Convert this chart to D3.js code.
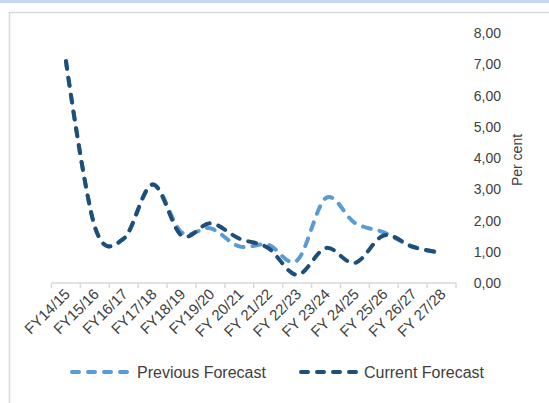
<!DOCTYPE html>
<html><head><meta charset="utf-8">
<script src="https://cdn.jsdelivr.net/npm/d3@7"></script>
<style>body{margin:0;background:#fff;}svg{display:block;font-family:"Liberation Sans",Arial,sans-serif;}</style>
</head><body>
<svg id="chart" width="549" height="403"></svg>
<script>
const categories = ["FY14/15","FY15/16","FY16/17","FY17/18","FY18/19","FY19/20","FY 20/21","FY 21/22","FY 22/23","FY 23/24","FY 24/25","FY 25/26","FY 26/27","FY 27/28"];
const previousForecast = [7.1,1.8,1.42,3.15,1.62,1.75,1.17,1.22,0.72,2.72,1.92,1.62,1.16,0.96];
const currentForecast  = [7.1,1.8,1.42,3.15,1.52,1.91,1.42,1.12,0.26,1.12,0.64,1.52,1.16,0.96];
const yTicks = [0,1,2,3,4,5,6,7,8];
const seriesNames = ["Previous Forecast","Current Forecast"];
const colors = ["#5b9bd5","#1f4e79"];

const svg = d3.select("#chart");
svg.append("rect").attr("x",0).attr("y",0).attr("width",549).attr("height",3).attr("fill","#c6d9f0");
svg.append("rect").attr("x",9.5).attr("y",12.5).attr("width",560).attr("height",420)
  .attr("fill","none").attr("stroke","#d9d9d9").attr("stroke-width",1.5);

const x = d3.scaleBand().domain(categories).range([51.5,456]);
const y = d3.scaleLinear().domain([0,8]).range([283,33]);

const g = svg.append("g");
g.append("line").attr("x1",x.range()[0]).attr("x2",x.range()[1]).attr("y1",y(0)).attr("y2",y(0))
  .attr("stroke","#d9d9d9").attr("stroke-width",1.5);
const bounds = categories.map(c=>x(c)).concat([x.range()[1]]);
g.selectAll(".tk").data(bounds).join("line")
  .attr("x1",d=>d).attr("x2",d=>d).attr("y1",y(0)).attr("y2",y(0)+5)
  .attr("stroke","#d9d9d9").attr("stroke-width",1.5);

g.selectAll(".xl").data(categories).join("text")
  .attr("transform",d=>`translate(${x(d)+x.bandwidth()/2+5},${y(0)+12}) rotate(-45)`)
  .attr("text-anchor","end").attr("font-size",15).attr("fill","#404040")
  .text(d=>d);

const fmt = d=>d3.format(".2f")(d).replace(".",",");
g.selectAll(".yl").data(yTicks).join("text")
  .attr("x",501).attr("y",d=>y(d)+5).attr("text-anchor","end")
  .attr("font-size",14).attr("fill","#404040").text(fmt);
svg.append("text").attr("transform",`translate(${522},${160}) rotate(-90)`)
  .attr("text-anchor","middle").attr("font-size",14).attr("fill","#404040").text("Per cent");

const line = d3.line().x((d,i)=>x(categories[i])+x.bandwidth()/2).y(d=>y(d)).curve(d3.curveCatmullRom.alpha(0));
[previousForecast,currentForecast].forEach((s,k)=>{
  svg.append("path").datum(s).attr("d",line).attr("fill","none")
    .attr("stroke",colors[k]).attr("stroke-width",4).attr("stroke-linecap","round")
    .attr("stroke-dasharray","8,9");
});

const leg = [{x:72,tx:137},{x:301,tx:364}];
seriesNames.forEach((n,k)=>{
  svg.append("line").attr("x1",leg[k].x).attr("x2",leg[k].x+58).attr("y1",372).attr("y2",372)
    .attr("stroke",colors[k]).attr("stroke-width",4).attr("stroke-linecap","round").attr("stroke-dasharray","7,9");
  svg.append("text").attr("x",leg[k].tx).attr("y",378).attr("font-size",16).attr("fill","#404040").text(n);
});
</script>
</body></html>
